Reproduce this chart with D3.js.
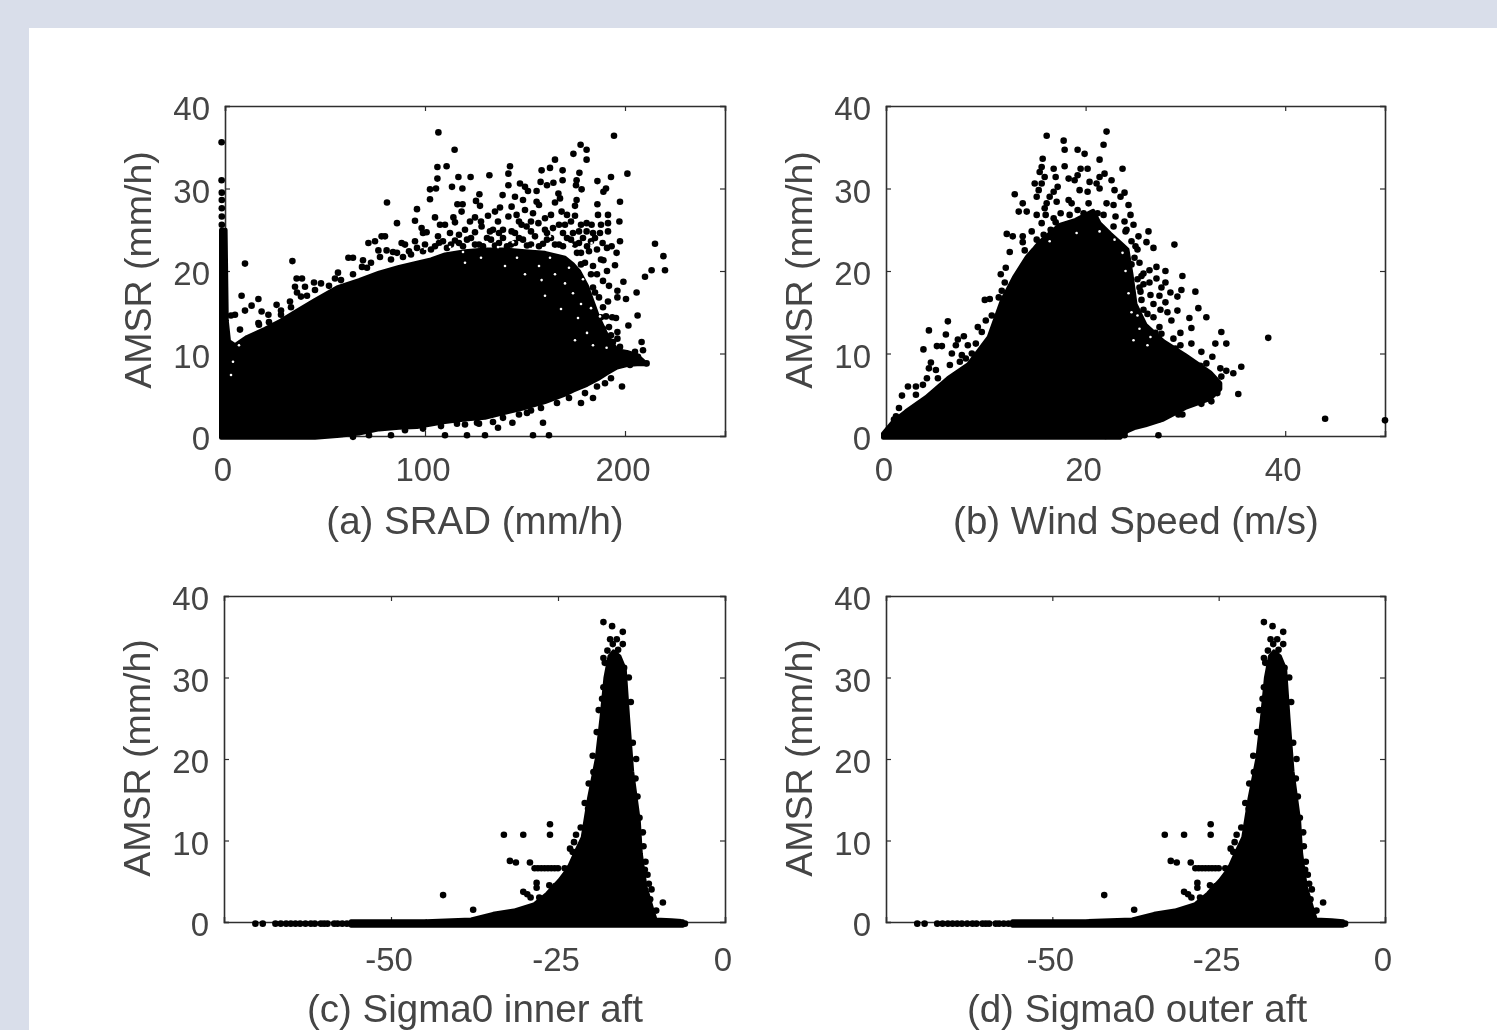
<!DOCTYPE html>
<html>
<head>
<meta charset="utf-8">
<script src="https://cdn.jsdelivr.net/npm/d3@7"></script>
<style>
  html, body { margin: 0; padding: 0; background: #d9deea; overflow: hidden; }
  text { font-family: "Liberation Sans", Arial, sans-serif; fill: #444444; }
</style>
</head>
<body>
<div class="chart"></div>
<script>
var svgWidth = 1497;
var svgHeight = 1030;

var yTicks = [0, 10, 20, 30, 40];
var sradTicks = [0, 100, 200];
var windTicks = [0, 20, 40];
var sigmaTicks = [-50, -25, 0];

var sradEdgeX = [-2, -1.6, 0.3, 0.9, 2, 5, 11, 20, 28, 36, 45, 56, 67, 77, 87, 96, 103, 110, 120, 130, 140, 150, 160, 170, 174, 177, 181, 186.5, 191, 196, 201, 206, 211];
var sradEdgeTop = [25, 25, 25, 14, 11.5, 11, 12, 13, 14, 15.2, 16.5, 18, 18.9, 19.8, 20.5, 21, 21.4, 22, 22.4, 22.6, 22.6, 22.4, 22.2, 21.6, 20.8, 20, 18.2, 14.5, 12.2, 10.4, 10.2, 9.8, 8.7];
var sradEdgeBottom = [-0.2, -0.2, -0.2, -0.2, -0.2, -0.2, -0.2, -0.2, -0.2, -0.2, -0.2, 0, 0.3, 0.8, 1, 1.1, 1.4, 1.7, 2, 2.2, 2.8, 3.4, 4.1, 5, 5.5, 5.8, 6.2, 6.9, 7.6, 8.3, 8.6, 8.7, 8.7];

var windEdgeX = [-0.3, 0.75, 2, 4, 6.2, 8.25, 10.3, 11.6, 12.8, 14.1, 15.4, 17.4, 19, 20.75, 21.4, 22.5, 23.5, 24.2, 24.6, 25, 26, 27.8, 30, 32.5, 33.5];
var windEdgeTop = [0.3, 1.8, 3, 4.7, 7, 8.7, 12, 16.4, 19.2, 21.7, 23.5, 25.6, 26.2, 27.3, 25.8, 24.5, 23.4, 22.6, 19.6, 16, 13.5, 11.5, 9.8, 7.7, 6.4];
var windEdgeBottom = [-0.2, -0.2, -0.2, -0.2, -0.2, -0.2, -0.2, -0.2, -0.2, -0.2, -0.2, -0.2, -0.2, -0.2, -0.2, -0.2, -0.2, 0.6, 0.8, 1, 1.3, 2, 3.4, 4.5, 5.7];

// Panels (c) and (d) show the same cloud
var sigmaEdgeX = [-56, -45, -38, -34.7, -31.6, -28.5, -26.6, -24.8, -23.5, -22.4, -21.3, -20.4, -19.2, -18.5, -17.9, -17.3, -16.7, -15.8, -15, -14.5, -13.9, -12.9, -12.6, -11.9, -11.4, -10.9, -10.4, -8, -6.3];
var sigmaEdgeTop = [0.1, 0.1, 0.3, 1, 1.4, 2.2, 3.5, 5.1, 6.5, 8.5, 10.4, 15, 20, 25, 30, 32.6, 33.2, 32.6, 31, 25, 18.5, 12.4, 8.4, 4.3, 3, 1.6, 0.3, 0.2, 0.1];
var sigmaEdgeBottom = [-0.45, -0.45, -0.45, -0.45, -0.45, -0.45, -0.45, -0.45, -0.45, -0.45, -0.45, -0.45, -0.45, -0.45, -0.45, -0.45, -0.45, -0.45, -0.45, -0.45, -0.45, -0.45, -0.45, -0.45, -0.45, -0.45, -0.45, -0.45, -0.45];

// Single dots around the solid part
var sradPoints = [[-1.7,35.6],[-1.7,31],[-1.6,29.5],[-1.6,28.6],[-1.6,27.6],[-1.6,26.6],[-1.6,25.6],
  // top of the cloud, left half
  [106.7,36.8],[114.8,34.7],[106.2,32.6],[110.8,32.7],[106.2,31.2],[116.7,31.4],[122.8,31.4],[132.2,31.6],[142.5,32.7],[141.7,31.8],[158.3,32.2],[157.8,30.8],[141.7,30.4],
  [102.5,29.9],[105.5,30],[113.5,30.2],[118.7,30],[102.5,28.7],[127.2,29.3],[125.5,28.5],[127.5,27.9],[116.2,28.1],[118.8,28.1],[118.3,27.2],[105,26.5],[114.2,26.5],[115,25.9],[107.5,25.6],[110,25.6],[98.3,25.2],[100.8,24.7],
  [106.5,24.2],[112.5,24.6],[120,25],[122.5,26],[125,26.5],[131.5,26.7],[128.3,25.4],[136.5,26],[137.5,27.7],[135,27.2],[138.8,29.2],[145,29],[147.5,30.6],[150,30.2],[151.5,29.7],[155.8,29.7],[149,28.6],[150,27.4],[155.8,28.4],[157,28],[154,27],
  [143.3,27.8],[145.8,26.8],[141.7,26.6],[160,26.4],[156.7,25.8],[148.3,25.6],[150.8,25.4],[139,25],[143.3,24.8],[132.5,24.8],[81,28.3],[96,27.5],[95,26.1],[86,25.8],
  // top of the cloud, right half
  [194.5,36.4],[177.8,35.3],[180.8,34.7],[180.8,33.5],[174.2,34.2],[165,33.5],[201.2,31.8],[193,31.4],[162.5,32.5],[168.8,32.2],[177.2,31.9],[164.2,30.7],[161,30.4],[168.8,31],[175.8,31],[175.5,30.4],[178.3,29.9],[186.2,30.9],[189.2,29.6],[190.5,30],
  [166.7,29.4],[167.5,28.8],[175.8,28.6],[175,27.9],[165,28.3],[186.2,28.1],[197.5,28.4],[168.3,27.2],[171,26.8],[175,26.7],[186.5,26.8],[191.5,26.8],[191.5,25.8],[191.5,24.8],[197.2,26],[180.8,25.8],[183.3,25.6],[170,25.6],[160,25],[164,25.2],[180.8,24.8],[187.5,24.6],[174,24.6],[197.5,23.6],[188.8,23.4],[193.3,23],[215,23.3],[219.2,21.8],[195.8,22.2],
  // filling just above the solid part
  [103,22.6],[107,23.4],[111,22.8],[115,23.7],[119,23],[123,24],[127,23.2],[131,24],[135,23.1],[139,24],[143,23.2],[147,24],[151,23.1],[155,24.2],[159,23.3],[163,24],[167,23.2],[171,24],[175,23.2],[179,24],[183,23.6],[186,22.6],[182,22.4],[178,22.2],
  [117,24.4],[125,24.7],[137,24.6],[145,24.6],[153,24.8],[161,24.6],[169,24.6],[177,24.8],[191,22.8],[188,21.4],[184,20.6],[189.2,21.3],[195,20.7],[191,20],[186,19.6],[189,18.8],[184,18],[192,18.2],[187,16.8],[191.5,16.3],[189,15.6],[190.5,14.5],[193.6,14.4],
  [105,23],[109,23.6],[113,23.2],[117,23.4],[121,23.8],[125,23.2],[129,23],[133,23.8],[137,23.4],[141,23],[145,23.4],[149,23.8],[153,23.2],[157,23],[161,23.8],[165,23.2],[169,23],[173,23.8],[177,23.4],[181,23],[185,24],[176,22.2],[180,21],[183,19.6],[178,20.8],[185,17.4],[188,14.4],[192,13.2],[194,11.4],[189,13],[193,12.2],
  [128,26],[134,25],[147,26],[153,26],[163,26.8],[167,25.6],[173,26],[178,25.6],[184,24.6],[188,25.6],
  // right tail
  [220,20.1],[213.3,20.1],[210,19.3],[199.2,18.7],[196.2,17.6],[196.2,16.8],[205.8,17.4],[200.5,16.6],[206.3,14.6],[195.5,14.3],[201.7,13.4],[196.2,12.6],[196.2,11.8],[208.3,11.4],[205,10.2],[209,10.4],[206.5,9.6],[210.8,8.8],[202.5,8.6],[197.5,10.8],[199,9.6],
  // low outliers and lower edge
  [198.5,6],[159,1.6],[154,0.1],[162,0.1],[130,0.1],[121,0.1],[184,4.6],[178,4],[151,2.8],[143.7,1.6],[136.5,1],[83,0.1],[72,0.1],[64,-0.1],[110,0.1],[127,1.5],[120,1.4],[147,2.6],[153,3.1],[158,3.4],[166,4],[172,4.6],[180,5.2],[186,6],[193,7],[190,6.4],[139,2.2],[134,1.7],[126,1.6],[116,1.5],[108,1.2],[99,0.9],[90,0.7],
  // left side above the solid part
  [10,20.9],[33.7,21.2],[8.3,17],[16.7,16.6],[13.3,15.8],[10,15.2],[5,14.7],[3,14.6],[18.3,15.1],[21.7,14.7],[16.7,13.7],[7.5,12.9],[25.8,15.9],[28,15.2],[32.5,16.3],[33,15.6],[35.8,19.1],[38.5,19.1],[35,18.1],[36,17.4],[40,18.1],[44.5,18.6],[48,18.5],[45,17.7],[38,16.9],[61.7,21.6],[64,21.6],[69,21.3],[68.5,20.5],[56.5,19.8],[55,19.1],[71.7,23.4],[75,23.6],[78.3,24.2],[80,24.2],[76.7,22.5],[77.5,21.7],[80.8,22.5],[84,22.3],[88.3,23.4],[90,23.2],[95,23.6],[99,24.6],[100,23.2],[92,22.4],
  [17,13.5],[22,13.8],[28,14.7],[41,17],[52,18.2],[58,18.9],[64,19.6],[71,20.4],[83,21.4],[93,22],[99,22.4],[89,21.7],[73,21],[86,22.2],[96,22.8]];

// Small white gaps inside the dense part
var sradGaps = [[112.5,22.9],[119,22.3],[144,23.5],[130.8,23.5],[136.5,22.9],[154,22.8],[107.5,22.9],[100,22.7],[173.3,23.2],[162.5,24.2],[183.3,23.4],[162.5,21.6],[174,17.3],[176.5,14.3],[187.5,14.5],[170,18.5],[188.3,20.1],[190.8,10.7],[182.5,18.7],[158.3,18.9],
  [120,21],[128,21.6],[140,20.6],[146,21.6],[150,19.6],[157,20.6],[160,17],[165,19.6],[168,15.4],[172,20.4],[175,11.6],[178,16],[181,12.5],[183,15.5],[179,19],[184,11],[4,9],[7,11],[3,7.4]];

var windPoints = [[22.1,36.9],[16.1,36.4],[17.8,35.8],[21.8,35.3],[17.9,34.7],[19.2,34.7],[19.9,34.2],[21.4,33.5],[15.7,33.6],[17.9,32.7],[23.7,32.4],[15.6,32.6],[15.4,32],[15.9,31.4],[16.8,32.4],[17,31.4],[19.5,32.4],[20.2,32.4],[19.2,31.6],[18.9,31],[18.3,31.2],[21.9,31.8],[21.4,31.4],[22.6,31],[20.4,30.8],[21.1,30.6],[21.4,30],
  [14.9,30.6],[15.6,30.6],[15.3,29.8],[15.1,29],[17.2,30.2],[16.8,29.6],[16.4,29],[19.4,29.8],[20.2,29.6],[22.9,29.8],[23.9,29.5],[12.9,29.3],[13.7,28.2],[13.3,27.2],[14.1,27.2],[16.1,28.2],[15.9,27.6],[17.1,28.4],[18.3,28.6],[18.6,28.2],[20.3,28.2],[22.1,28.2],[22.8,28],[24.3,28],[23.5,29],[24.5,26.8],[24.8,25.6],[15.1,26.8],[15.6,25.8],[16.8,26.4],[18.4,26.8],[25.3,24.2],[26.3,24.8],[26.1,23.5],[26.8,22.8],
  [12.1,24.5],[12.7,24.2],[13.7,24.2],[12.4,22.3],[13.7,23.5],[13.9,22.5],[15.1,23.8],[15.2,22.5],[16.5,25],[19.2,27.4],[21.2,27],[23,26.6],[23.9,26],[22.8,25.4],[24,24.8],[24.6,23.6],[25.2,22.6],[24.9,21.6],
  [16,26.8],[17.5,27],[19.8,27],[21.8,26.8],[24.1,25],[25,23],[24.6,20.8],[25.4,21],[25.6,19.4],[14.6,24.8],[15.8,24.4],[17,25.9],
  // right side
  [28.9,23.2],[27.1,20.5],[28,20],[29.7,19.4],[27.1,19.1],[25.8,19.7],[26.4,20.1],[31,17.5],[29.6,17.7],[29.2,16.9],[28.5,17.4],[31.3,15.5],[32.1,14.4],[29.2,15.2],[28,16.2],[30.4,14.3],[30.6,13.1],[33.6,12.6],[38.3,11.9],[29.5,12.5],[33,11.2],[34.1,11.2],[30.6,11.2],[29.5,11],[31.6,10.2],[32.7,9.6],[35.6,8.4],[33.5,8.2],[34.8,7.6],[34.1,7.9],[31.5,8.5],[32.1,8.8],[29.8,9.6],[33.6,7.2],
  [25.5,17.5],[26.5,17.1],[27.5,15.3],[28.6,14],[25.8,15.3],[26.8,14.4],[27.4,13.2],[28.8,11.8],[27.6,12.4],[25.2,19],[25.4,18],[25.6,16.5],[26,13],[27,12.5],[28,11],[29,10.6],[28.4,10],[30,9.4],[31,8.4],[32,7.6],[25.8,18.4],[26.4,18.6],[27.6,18],[28,18.6],[26.8,16],[27.4,17],[28.2,15],[26.2,14.8],
  [35.3,5.1],[44,2.1],[50,1.9],[29.3,2.6],[29.7,2.6],[27.3,0.1],[23.9,0.1],[22,0],[27,2.4],[26.6,2.2],[27.3,2],[28.4,3.4],[30.2,4],[31.6,3.9],[32.6,4.2],[33.2,5.2],
  // left side
  [4.3,12.8],[6.2,13.9],[6,12.3],[7.8,12.1],[7.2,11.7],[3.75,10.5],[5.1,10.9],[5.6,10.9],[7,11],[8.2,11],[6.6,10],[7.6,9.8],[4.5,8.9],[4.3,8.2],[2.2,6],[3,6],[3.7,6.2],[4.1,7],[1.6,4.9],[1.3,3.4],[1,2.4],[0.8,2],
  [9.9,16.5],[10.4,16.6],[11.3,16.8],[11.6,17.6],[11.9,18.6],[11.5,19.6],[12,20.4],[9.2,13.2],[9.6,12.6],[9,11.2],[8.6,10],[10,14],[10.6,14.6],[8,9.4],[5,8],[6.4,8.6],[7.4,9],[3,5],[5.2,7]];

var windGaps = [[26.5,12],[24.3,17.3],[25.2,14.6],[19.1,24.6],[22.9,23.8],[21.4,24.8],[14.6,23],[23.7,22.2],[24,20],[24.6,15],[25.4,13],[26.2,11],[24.8,11.6],[16.4,23.6]];

var sigmaPoints = [[-18.2,36.8],[-16.9,36.3],[-15.3,35.6],[-17.2,34.7],[-16.2,34.7],[-15.3,34.1],[-16.8,34.1],[-17.6,33.3],[-16,33.4],[-18.2,32.4],[-18,31.8],[-15.1,31.2],[-18.2,28.8],[-18.4,27.4],[-14.4,30],[-14.1,27],[-18.9,26],
  [-19.2,23.3],[-19.7,18.4],[-20.5,13.9],[-26.2,12],[-26.2,10.7],[-33.1,10.7],[-30.2,10.7],[-22.3,10.7],[-23.2,9],[-22.8,8.6],[-12.2,9.3],[-12.8,12.8],[-13.4,17.6],[-13.8,22],
  [-19.8,20.4],[-20.4,17],[-21,14.6],[-21.6,11.6],[-22.6,9.8],[-13.1,15.4],[-13.3,20],[-12.3,11],[-11.9,7.4],[-11.6,5.8],
  [-32.2,7.5],[-31.3,7.3],[-29.2,7.3],[-28.5,6.6],[-28,6.6],[-27.5,6.6],[-27,6.6],[-26.5,6.6],[-26,6.6],[-25.5,6.6],[-25,6.6],[-24,6.6],[-23.3,6.6],[-28.2,4.8],[-28.2,4.2],[-26.3,4.5],[-25.4,4.4],[-30.2,3.7],[-29.1,3],[-29.6,3.4],[-27.8,3],
  [-42.2,3.3],[-37.7,1.5],[-9.3,2.4],[-10.3,1.4],[-11.4,4.7],[-11,4],[-11.4,2],[-11.2,2.8],[-12,6.4],
  [-70.3,-0.2],[-69.2,-0.2],[-67.3,-0.2],[-66.5,-0.2],[-65.7,-0.2],[-65,-0.2],[-64.3,-0.2],[-63.6,-0.2],[-62.8,-0.2],[-62,-0.2],[-61.4,-0.2],[-60.5,-0.2],[-60,-0.2],[-59.5,-0.2],[-58.5,-0.2],[-58,-0.2],[-57.3,-0.2],[-56.6,-0.2],[-56,-0.2],[-6,-0.2]];

var sigmaGaps = [];

// One entry per panel: where it sits and which arrays it reads
var panels = [
  { left: 225, top: 106, right: 725, bottom: 436, xDomain: [0, 250], xTicks: sradTicks, edgeX: sradEdgeX, edgeTop: sradEdgeTop, edgeBottom: sradEdgeBottom, points: sradPoints, gaps: sradGaps, title: "(a) SRAD (mm/h)", tickY: 481, titleY: 534, titleX: 475 },
  { left: 886, top: 106, right: 1385, bottom: 436, xDomain: [0, 50], xTicks: windTicks, edgeX: windEdgeX, edgeTop: windEdgeTop, edgeBottom: windEdgeBottom, points: windPoints, gaps: windGaps, title: "(b) Wind Speed (m/s)", tickY: 481, titleY: 534, titleX: 1136 },
  { left: 224, top: 596, right: 725, bottom: 922, xDomain: [-75, 0], xTicks: sigmaTicks, edgeX: sigmaEdgeX, edgeTop: sigmaEdgeTop, edgeBottom: sigmaEdgeBottom, points: sigmaPoints, gaps: sigmaGaps, title: "(c) Sigma0 inner aft", tickY: 971, titleY: 1022, titleX: 475 },
  { left: 886, top: 596, right: 1385, bottom: 922, xDomain: [-75, 0], xTicks: sigmaTicks, edgeX: sigmaEdgeX, edgeTop: sigmaEdgeTop, edgeBottom: sigmaEdgeBottom, points: sigmaPoints, gaps: sigmaGaps, title: "(d) Sigma0 outer aft", tickY: 971, titleY: 1022, titleX: 1137 }
];

var svg = d3.select(".chart")
  .append("svg")
  .attr("width", svgWidth)
  .attr("height", svgHeight)
  .style("display", "block");

// soft edges like the scanned figure
var blur = svg.append("defs").append("filter").attr("id", "soft");
blur.append("feGaussianBlur").attr("stdDeviation", 0.6);

svg.append("rect")
  .attr("x", 0).attr("y", 0)
  .attr("width", svgWidth).attr("height", svgHeight)
  .attr("fill", "#d9deea");

svg.append("rect")
  .attr("x", 29).attr("y", 28)
  .attr("width", svgWidth - 29).attr("height", svgHeight - 28)
  .attr("fill", "#ffffff");

var chartGroup = svg.append("g").attr("filter", "url(#soft)");

panels.forEach(function(p) {
  var g = chartGroup.append("g");

  var xScale = d3.scaleLinear().domain(p.xDomain).range([p.left, p.right]);
  var yScale = d3.scaleLinear().domain([0, 40]).range([p.bottom, p.top]);

  // Box and inward ticks on all four sides
  var sides = [
    { axis: d3.axisBottom(xScale).tickValues(p.xTicks).tickSize(-5).tickFormat(""), at: [0, p.bottom] },
    { axis: d3.axisTop(xScale).tickValues(p.xTicks).tickSize(-5).tickFormat(""), at: [0, p.top] },
    { axis: d3.axisLeft(yScale).tickValues(yTicks).tickSize(-5).tickFormat(""), at: [p.left, 0] },
    { axis: d3.axisRight(yScale).tickValues(yTicks).tickSize(-5).tickFormat(""), at: [p.right, 0] }
  ];
  sides.forEach(function(s) {
    var a = g.append("g")
      .attr("transform", `translate(${s.at[0]}, ${s.at[1]})`)
      .call(s.axis);
    a.selectAll("path").attr("stroke", "#2e2e2e").attr("stroke-width", 1.6);
    a.selectAll("line").attr("stroke", "#2e2e2e").attr("stroke-width", 1.2);
  });

  // Tick labels
  g.selectAll(".xlab")
    .data(p.xTicks)
    .enter()
    .append("text")
    .attr("x", d => xScale(d) - 2)
    .attr("y", p.tickY)
    .attr("text-anchor", "middle")
    .attr("font-size", 33)
    .text(d => d);

  g.selectAll(".ylab")
    .data(yTicks)
    .enter()
    .append("text")
    .attr("x", p.left - 15)
    .attr("y", d => yScale(d) + 14)
    .attr("text-anchor", "end")
    .attr("font-size", 33)
    .text(d => d);

  // Axis titles
  g.append("text")
    .attr("x", p.titleX)
    .attr("y", p.titleY)
    .attr("text-anchor", "middle")
    .attr("font-size", 38.5)
    .text(p.title);

  g.append("text")
    .attr("transform", `translate(${p.left - 74}, ${(p.top + p.bottom) / 2 - 1}) rotate(-90)`)
    .attr("text-anchor", "middle")
    .attr("font-size", 37.5)
    .text("AMSR (mm/h)");

  // Solid part of the cloud
  var edge = p.edgeX.map(function(x, i) {
    return { x: x, top: p.edgeTop[i], bottom: p.edgeBottom[i] };
  });
  var area = d3.area()
    .x(d => xScale(d.x))
    .y0(d => yScale(d.bottom))
    .y1(d => yScale(d.top));

  g.append("path")
    .attr("d", area(edge))
    .attr("fill", "#000000")
    .attr("stroke", "#000000")
    .attr("stroke-width", 4)
    .attr("stroke-linejoin", "round");

  // Single dots
  g.selectAll(".dot")
    .data(p.points)
    .enter()
    .append("circle")
    .attr("class", "dot")
    .attr("cx", d => xScale(d[0]))
    .attr("cy", d => yScale(d[1]))
    .attr("r", 3.3)
    .attr("fill", "#000000");

  // Gaps in the dense part
  g.selectAll(".gap")
    .data(p.gaps)
    .enter()
    .append("circle")
    .attr("class", "gap")
    .attr("cx", d => xScale(d[0]))
    .attr("cy", d => yScale(d[1]))
    .attr("r", 1.3)
    .attr("fill", "#ffffff");
});
</script>
</body>
</html>
